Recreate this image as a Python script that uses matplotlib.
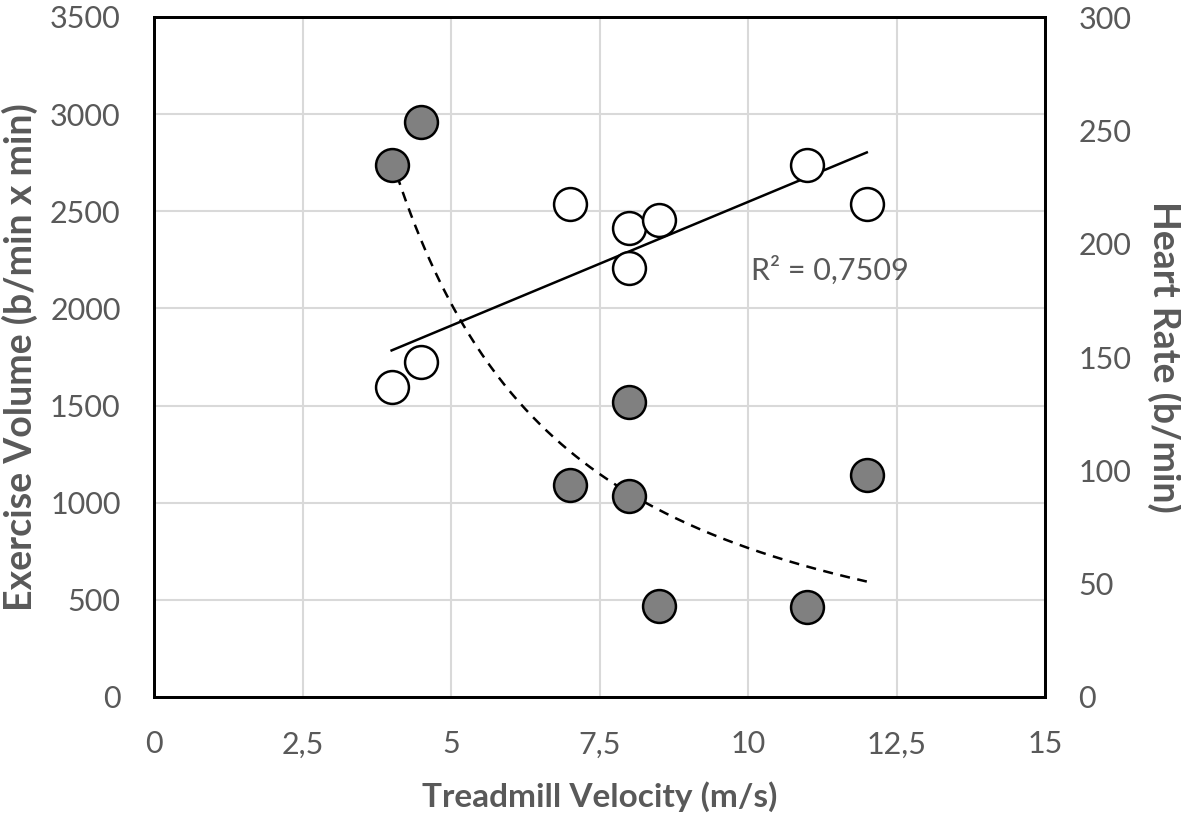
import numpy as np
import matplotlib
matplotlib.use("Agg")
import matplotlib.pyplot as plt
from matplotlib.ticker import FuncFormatter

velocity = [4, 4.5, 7, 8, 8, 8.5, 11, 12]
exercise_volume = [2740, 2960, 1090, 1520, 1035, 470, 465, 1145]
heart_rate = [136.7, 147.9, 217.7, 207.0, 189.4, 210.4, 234.9, 217.7]

x_ticks = [0, 2.5, 5, 7.5, 10, 12.5, 15]
left_ticks = [0, 500, 1000, 1500, 2000, 2500, 3000, 3500]
right_ticks = [0, 50, 100, 150, 200, 250, 300]
r2_label = "R² = 0,7509"

plt.rcParams['font.family'] = ['Lato', 'DejaVu Sans']
grey = '#595959'

fig = plt.figure(figsize=(11.81, 8.17), dpi=100)
ax = fig.add_axes([154/1181, 1 - 697/817, (1045-154)/1181, (697-17)/817])
ax2 = ax.twinx()

ax.set_xlim(0, 15)
ax.set_ylim(0, 3500)
ax2.set_ylim(0, 300)
ax.set_xticks(x_ticks)
ax.set_yticks(left_ticks)
ax2.set_yticks(right_ticks)
ax.xaxis.set_major_formatter(FuncFormatter(lambda v, p: f"{v:g}".replace('.', ',')))

ax.grid(True, color='#d9d9d9', linewidth=1.5)
ax.set_axisbelow(True)
for a in (ax, ax2):
    for s in a.spines.values():
        s.set_linewidth(2)
        s.set_color('black')
    a.tick_params(length=0, labelsize=22, labelcolor=grey, pad=24)

# power fit for exercise volume
b, ln_a = np.polyfit(np.log(velocity), np.log(exercise_volume), 1)
xf = np.linspace(min(velocity), max(velocity), 200)
ax.plot(xf, np.exp(ln_a) * xf ** b, color='black', linestyle=(0, (4, 3)), linewidth=1.8, zorder=3)

# linear fit for heart rate
m, c = np.polyfit(velocity, heart_rate, 1)
xl = np.array([min(velocity), max(velocity)])
ax2.plot(xl, m * xl + c, color='black', linewidth=1.8, zorder=3)

ax.scatter(velocity, exercise_volume, s=560, facecolor='#808080', edgecolor='black', linewidth=1.8, zorder=4)
ax2.scatter(velocity, heart_rate, s=560, facecolor='white', edgecolor='black', linewidth=1.8, zorder=4)

ax.text(10.05, 2195, r2_label, fontsize=22, color=grey, va='center', ha='left', zorder=5)

ax.set_xlabel('Treadmill Velocity (m/s)', fontsize=24, fontweight='bold', color=grey, va='center')
ax.xaxis.set_label_coords(0.5, -0.147)
ax.set_ylabel('Exercise Volume (b/min x min)', fontsize=27, fontweight='bold', color=grey, va='center')
ax.yaxis.set_label_coords(-0.1504, 0.5)
ax2.set_ylabel('Heart Rate (b/min)', fontsize=27, fontweight='bold', color=grey, rotation=270, va='center')
ax2.yaxis.set_label_coords(1.1347, 0.5)

fig.savefig('out.png', dpi=100)
